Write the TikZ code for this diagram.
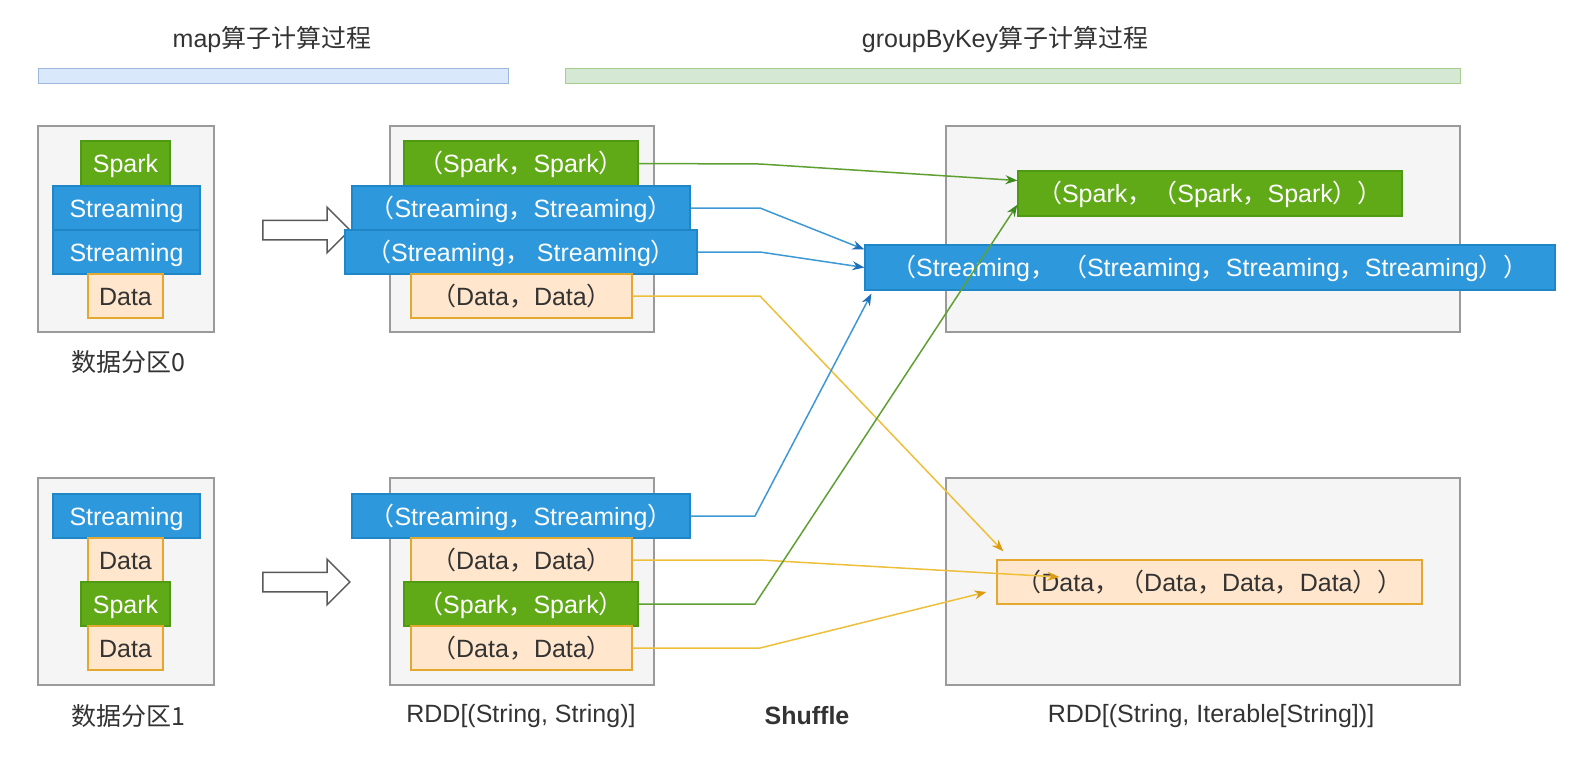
\documentclass[tikz,border=0pt]{standalone}
\usepackage{fontspec}
\setmainfont{Liberation Sans}
\newfontfamily\cjk{Noto Sans CJK SC}
\usetikzlibrary{arrows.meta,shapes.arrows}
\definecolor{gF}{HTML}{60A917}
\definecolor{gD}{HTML}{4E9A12}
\definecolor{bF}{HTML}{2E98DC}
\definecolor{bD}{HTML}{1F86C8}
\definecolor{oF}{HTML}{FFE6CC}
\definecolor{oD}{HTML}{E2A92E}
\definecolor{contF}{HTML}{F5F5F5}
\definecolor{contD}{HTML}{9A9A9A}
\definecolor{txt}{HTML}{333333}
\definecolor{lnG}{HTML}{5FA033}
\definecolor{lnB}{HTML}{3D98D4}
\definecolor{lnY}{HTML}{EEBF3A}
\definecolor{tipG}{HTML}{3F8A1F}
\definecolor{tipB}{HTML}{1C6FB8}
\definecolor{tipY}{HTML}{DC9C12}
\definecolor{hbF}{HTML}{DAE8FC}
\definecolor{hbD}{HTML}{9DB7DF}
\definecolor{hgF}{HTML}{D5E8D4}
\definecolor{hgD}{HTML}{A6CF8E}
\newcommand\fwl{{\cjk （}}
\newcommand\fwr{{\cjk ）}}
\newcommand\fwc{{\cjk ，}}
\newcommand\fsz{\fontsize{25}{30}\selectfont}
\begin{document}
\begin{tikzpicture}[x=1pt,y=-1pt,
  cont/.style={draw=contD, fill=contF, line width=1.3pt, inner sep=0},
  item/.style={inner sep=0, line width=1.2pt, font=\fsz, text height=18pt, text depth=0pt},
  gitem/.style={item, fill=gF, draw=gD, text=white},
  bitem/.style={item, fill=bF, draw=bD, text=white},
  oitem/.style={item, fill=oF, draw=oD, text=txt},
  hbar/.style={line width=1pt, inner sep=0, minimum height=15},
  lbl/.style={font=\fsz, text=txt, inner sep=0},
  hol/.style={single arrow, draw=black!65, fill=white, line width=1.5pt, inner sep=0, inner ysep=9pt,
     single arrow head extend=13pt, minimum height=87, single arrow tip angle=90},
  connG/.style={draw=lnG, line width=1.5pt, -{Stealth[length=12pt,width=9pt,color=tipG]}},
  connB/.style={draw=lnB, line width=1.5pt, -{Stealth[length=12pt,width=9pt,color=tipB]}},
  connY/.style={draw=lnY, line width=1.5pt, -{Stealth[length=12pt,width=9pt,color=tipY]}}
]
\useasboundingbox (0,0) rectangle (1580,764);

% headers
\node[lbl] (h1) at (272,40) {map{\cjk 算子计算过程}};
\node[lbl] (h2) at (1005,40) {groupByKey{\cjk 算子计算过程}};
\node[hbar, fill=hbF, draw=hbD, minimum width=470] (hb) at (273,75.5) {};
\node[hbar, fill=hgF, draw=hgD, minimum width=895] (hg) at (1012.5,75.5) {};

% containers
\node[cont, minimum width=176, minimum height=206] (c0) at (126,229) {};
\node[cont, minimum width=176, minimum height=207] (c1) at (126,581.5) {};
\node[cont, minimum width=264, minimum height=206] (m0) at (522,229) {};
\node[cont, minimum width=264, minimum height=207] (m1) at (522,581.5) {};
\node[cont, minimum width=514, minimum height=206] (r0) at (1203,229) {};
\node[cont, minimum width=514, minimum height=207] (r1) at (1203,581.5) {};

% partition 0
\node[gitem, minimum width=89, minimum height=45] (p0a) at (125.5,163.5) {Spark};
\node[bitem, minimum width=147, minimum height=44] (p0b) at (126.5,208) {Streaming};
\node[bitem, minimum width=147, minimum height=44] (p0c) at (126.5,252) {Streaming};
\node[oitem, minimum width=75, minimum height=44] (p0d) at (125.5,296) {Data};
% partition 1
\node[bitem, minimum width=147, minimum height=44] (p1a) at (126.5,516) {Streaming};
\node[oitem, minimum width=75, minimum height=44] (p1b) at (125.5,560) {Data};
\node[gitem, minimum width=89, minimum height=44] (p1c) at (125.5,604) {Spark};
\node[oitem, minimum width=75, minimum height=44] (p1d) at (125.5,648) {Data};

\node[lbl] (l0) at (128,362) {\cjk 数据分区0};
\node[lbl] (l1) at (128,716) {\cjk 数据分区1};

% hollow arrows
\node[hol] (ha0) at (301.5,230) {};
\node[hol] (ha1) at (301.5,582) {};

% middle top
\node[gitem, minimum width=234, minimum height=45] (m0a) at (521,163.5) {\fwl Spark\fwc Spark\fwr};
\node[bitem, minimum width=338, minimum height=44] (m0b) at (521,208) {\fwl Streaming\fwc Streaming\fwr};
\node[bitem, minimum width=352, minimum height=44] (m0c) at (521,252) {\fwl Streaming\fwc\ Streaming\fwr};
\node[oitem, minimum width=221, minimum height=44] (m0d) at (521.5,296) {\fwl Data\fwc Data\fwr};
% middle bottom
\node[bitem, minimum width=338, minimum height=44] (m1a) at (521,516) {\fwl Streaming\fwc Streaming\fwr};
\node[oitem, minimum width=221, minimum height=44] (m1b) at (521.5,560) {\fwl Data\fwc Data\fwr};
\node[gitem, minimum width=234, minimum height=44] (m1c) at (521,604) {\fwl Spark\fwc Spark\fwr};
\node[oitem, minimum width=221, minimum height=44] (m1d) at (521.5,648) {\fwl Data\fwc Data\fwr};

% right
\node[gitem, minimum width=384, minimum height=45] (rg) at (1210,193.5) {\fwl Spark\fwc\fwl Spark\fwc Spark\fwr\fwr};
\node[bitem, minimum width=690, minimum height=45] (rb) at (1210,267.5) {\fwl Streaming\fwc\ \fwl Streaming\fwc Streaming\fwc Streaming\fwr\fwr};
\node[oitem, minimum width=425, minimum height=44] (ro) at (1209.5,582) {\fwl Data\fwc\fwl Data\fwc Data\fwc Data\fwr\fwr};

% bottom labels
\node[lbl] (lr1) at (521,716) {RDD[(String, String)]};
\node[lbl, font=\fsz\bfseries] (ls) at (807,716) {Shuffle};
\node[lbl] (lr2) at (1211,716) {RDD[(String, Iterable[String])]};

% connectors
\coordinate (k1) at (760,164);
\coordinate (k2) at (760,208);
\coordinate (k3) at (760,252);
\coordinate (k4) at (760,296);
\coordinate (k5) at (755,516);
\coordinate (k6) at (760,560);
\coordinate (k7) at (755,604);
\coordinate (k8) at (760,648);
\draw[connG] (m0a.east) -- (k1) -- ([yshift=13pt]rg.west);
\draw[connB] (m0b.east) -- (k2) -- ([yshift=18pt]rb.west);
\draw[connB] (m0c.east) -- (k3) -- (rb.west);
\draw[connY] (m0d.east) -- (k4) -- ([xshift=7pt,yshift=8pt]ro.north west);
\draw[connB] (m1a.east) -- (k5) -- ([xshift=7pt,yshift=-3pt]rb.south west);
\draw[connY] (m1b.east) -- (k6) -- ([xshift=63pt,yshift=5pt]ro.west);
\draw[connG] (m1c.east) -- (k7) -- ([yshift=12pt]rg.south west);
\draw[connY] (m1d.east) -- (k8) -- ([xshift=-10pt,yshift=-10pt]ro.west);
\end{tikzpicture}
\end{document}
